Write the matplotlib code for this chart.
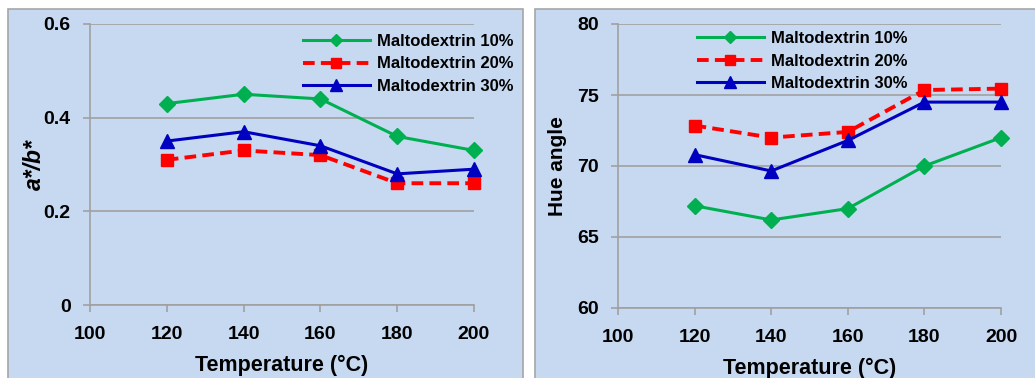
import matplotlib
matplotlib.use("Agg")
import matplotlib.pyplot as plt
from matplotlib.patches import Rectangle

plt.rcParams['font.family'] = ['Liberation Sans', 'DejaVu Sans']

temperature = [120, 140, 160, 180, 200]
series_labels = ["Maltodextrin 10%", "Maltodextrin 20%", "Maltodextrin 30%"]

ab_ratio_10 = [0.43, 0.45, 0.44, 0.36, 0.33]
ab_ratio_20 = [0.31, 0.33, 0.32, 0.26, 0.26]
ab_ratio_30 = [0.35, 0.37, 0.34, 0.28, 0.29]

hue_10 = [67.2, 66.2, 67.0, 70.0, 72.0]
hue_20 = [72.85, 72.0, 72.4, 75.35, 75.45]
hue_30 = [70.8, 69.65, 71.8, 74.5, 74.5]

x_ticks = [100, 120, 140, 160, 180, 200]
ab_ticks = [0, 0.2, 0.4, 0.6]
ab_tick_labels = ["0", "0.2", "0.4", "0.6"]
hue_ticks = [60, 65, 70, 75, 80]

W, H = 1035, 378
BG = "#C6D9F1"
GRID = "#A0A0A0"
styles = [
    dict(color="#00B050", marker="D", markersize=8, linestyle="-", linewidth=2.2),
    dict(color="#FF0000", marker="s", markersize=9, linestyle=(0, (3, 1.6)), linewidth=2.8),
    dict(color="#0000C0", marker="^", markersize=10, linestyle="-", linewidth=2.2),
]

fig = plt.figure(figsize=(W / 100, H / 100), dpi=100)
fig.patch.set_facecolor("white")

# panel backgrounds
for x0, x1 in [(8, 523), (535, 1040)]:
    fig.patches.append(Rectangle((x0 / W, -0.05), (x1 - x0) / W, (H - 9) / H + 0.05,
                                 transform=fig.transFigure, facecolor=BG,
                                 edgecolor="#A6A6A6", linewidth=1.2, zorder=-10))


def make_axes(px_left, px_right, px_top, px_bottom):
    ax = fig.add_axes([px_left / W, (H - px_bottom) / H,
                       (px_right - px_left) / W, (px_bottom - px_top) / H])
    ax.set_zorder(5)
    ax.set_facecolor("none")
    for s in ["top", "right"]:
        ax.spines[s].set_visible(False)
    for s in ["left", "bottom"]:
        ax.spines[s].set_color(GRID)
        ax.spines[s].set_linewidth(1.2)
    ax.tick_params(axis="both", colors=GRID, length=5, width=1.2, labelsize=14,
                   labelcolor="black")
    ax.tick_params(axis="x", pad=10)
    ax.tick_params(axis="y", pad=9)
    ax.set_axisbelow(True)
    ax.yaxis.grid(True, color=GRID, linewidth=1.2)
    ax.set_xlim(100, 200)
    ax.set_xticks(x_ticks)
    ax.set_xticklabels([str(t) for t in x_ticks], fontweight="bold")
    return ax


legend_kw = dict(frameon=False, handlelength=4.0, handletextpad=0.42,
                 labelspacing=0.45, borderpad=0, borderaxespad=0, markerscale=0.8,
                 prop={"weight": "bold", "size": 12})

# left panel: a*/b*
ax1 = make_axes(90, 474, 24, 305)
for vals, lab, st in zip([ab_ratio_10, ab_ratio_20, ab_ratio_30], series_labels, styles):
    ax1.plot(temperature, vals, label=lab, clip_on=False, **st)
ax1.set_ylim(0, 0.6)
ax1.set_yticks(ab_ticks)
ax1.set_yticklabels(ab_tick_labels, fontweight="bold")
ax1.set_xlabel("Temperature (°C)", fontsize=15.5, fontweight="bold", labelpad=9)
ax1.set_ylabel("a*/b*", fontsize=16.5, fontweight="bold", style="italic", labelpad=-2)
ax1.legend(loc="upper left", bbox_to_anchor=(303 / W, (H - 34) / H),
           bbox_transform=fig.transFigure, **legend_kw)

# right panel: hue angle
ax2 = make_axes(618, 1001, 24, 308)
for vals, lab, st in zip([hue_10, hue_20, hue_30], series_labels, styles):
    ax2.plot(temperature, vals, label=lab, clip_on=False, **st)
ax2.set_ylim(60, 80)
ax2.set_yticks(hue_ticks)
ax2.set_yticklabels([str(t) for t in hue_ticks], fontweight="bold")
ax2.set_xlabel("Temperature (°C)", fontsize=15.5, fontweight="bold", labelpad=9)
ax2.set_ylabel("Hue angle", fontsize=15, fontweight="bold", labelpad=7)
ax2.legend(loc="upper left", bbox_to_anchor=(697 / W, (H - 31) / H),
           bbox_transform=fig.transFigure, **legend_kw)

fig.savefig("out.png", dpi=100, facecolor=fig.get_facecolor())
